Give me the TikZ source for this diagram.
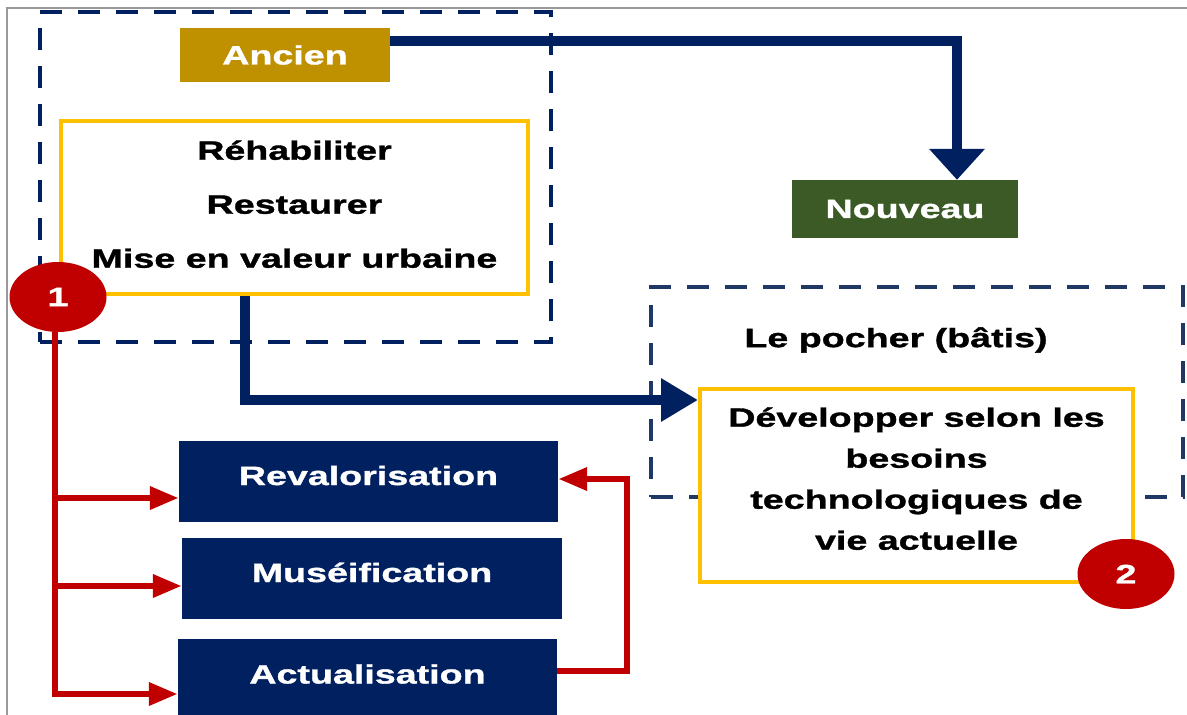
\documentclass[tikz,border=0pt]{standalone}
\usepackage{fontspec}
\setmainfont{Liberation Sans}[FakeStretch=1.42,BoldFeatures={FakeBold=1.3}]
\usetikzlibrary{arrows.meta,shapes.geometric}
\definecolor{navy}{HTML}{002060}
\definecolor{gold}{HTML}{BF9000}
\definecolor{leaf}{HTML}{3B5A25}
\definecolor{crimson}{HTML}{C00000}
\definecolor{amber}{HTML}{FFC000}
\definecolor{slate}{HTML}{203864}
\begin{document}
\begin{tikzpicture}[x=1pt,y=-1pt,
  every node/.style={font=\fontsize{26.5}{41}\selectfont\bfseries,inner sep=0pt},
  tagbox/.style={fill=#1,text=white},
  stage/.style={tagbox=navy,text height=19pt,text depth=12pt},
  framebox/.style={draw=amber,line width=4pt,fill=white,align=center},
  zone/.style={draw=#1,line width=4.5pt,dash pattern=on 22pt off 16pt},
  badge/.style={ellipse,fill=crimson,text=white,minimum width=97pt,minimum height=70pt},
  flow/.style={navy,line width=10pt},
  link/.style={crimson,line width=6.5pt,-{Triangle[length=29pt,width=22pt]}}]
\useasboundingbox (0,0) rectangle (1187,715);\clip (0,0) rectangle (1187,715);
\draw[gray!80,line width=1.5pt] (7,715)--(7,8)--(1187,8);
\node[zone=navy,minimum width=511pt,minimum height=330pt] (zoneA) at (295.5,177) {};
\node[zone=slate,minimum width=532pt,minimum height=210pt] (zoneB) at (917,392) {};
\node[tagbox=gold,minimum width=210pt,minimum height=54pt] (anc) at (285,55) {Ancien};
\node[tagbox=leaf,minimum width=226pt,minimum height=58pt] (nouv) at (905,209) {Nouveau};
\node[framebox,font=\fontsize{26.5}{54}\selectfont\bfseries,text depth=7pt,minimum width=467pt,minimum height=173pt] (act1) at (294.5,207.5) {Réhabiliter\\Restaurer\\Mise en valeur urbaine};
\node (pocher) at (896,340) {Le pocher (bâtis)};
\node[framebox,text depth=14pt,minimum width=433pt,minimum height=193pt] (dev) at (916.5,485.5) {Développer selon les\\besoins\\technologiques de\\vie actuelle};
\node[stage,minimum width=379pt,minimum height=81pt] (rev) at (368.5,481.5) {Revalorisation};
\node[stage,minimum width=380pt,minimum height=81pt] (mus) at (372,578.5) {Muséification};
\node[stage,minimum width=379pt,minimum height=82pt] (actu) at (367.5,680) {Actualisation};
\draw[flow,-{Triangle[length=31pt,width=54pt]}] ([yshift=14pt]anc.east) -| ([xshift=52pt]nouv.north);
\draw[flow,-{Triangle[length=37pt,width=41pt]}] ([xshift=-49.5pt]act1.south) |- ([yshift=-13pt]dev.north west);
\node[badge] (c1) at (58,297) {1};
\node[badge] (c2) at (1126,574) {2};
\coordinate (rin) at ([yshift=-16.5pt]rev.west);\coordinate (min) at ([yshift=-7.5pt]mus.west);
\draw[link] ([xshift=-3pt]c1.south) |- ([yshift=-14pt]actu.west);
\draw[link] ([xshift=-3pt]c1.south |- rin) -- (rin);\draw[link] ([xshift=-3pt]c1.south |- min) -- (min);
\draw[link] ([yshift=9pt]actu.east) -- ++(70,0) |- ([yshift=2.5pt]rev.east);
\end{tikzpicture}
\end{document}
